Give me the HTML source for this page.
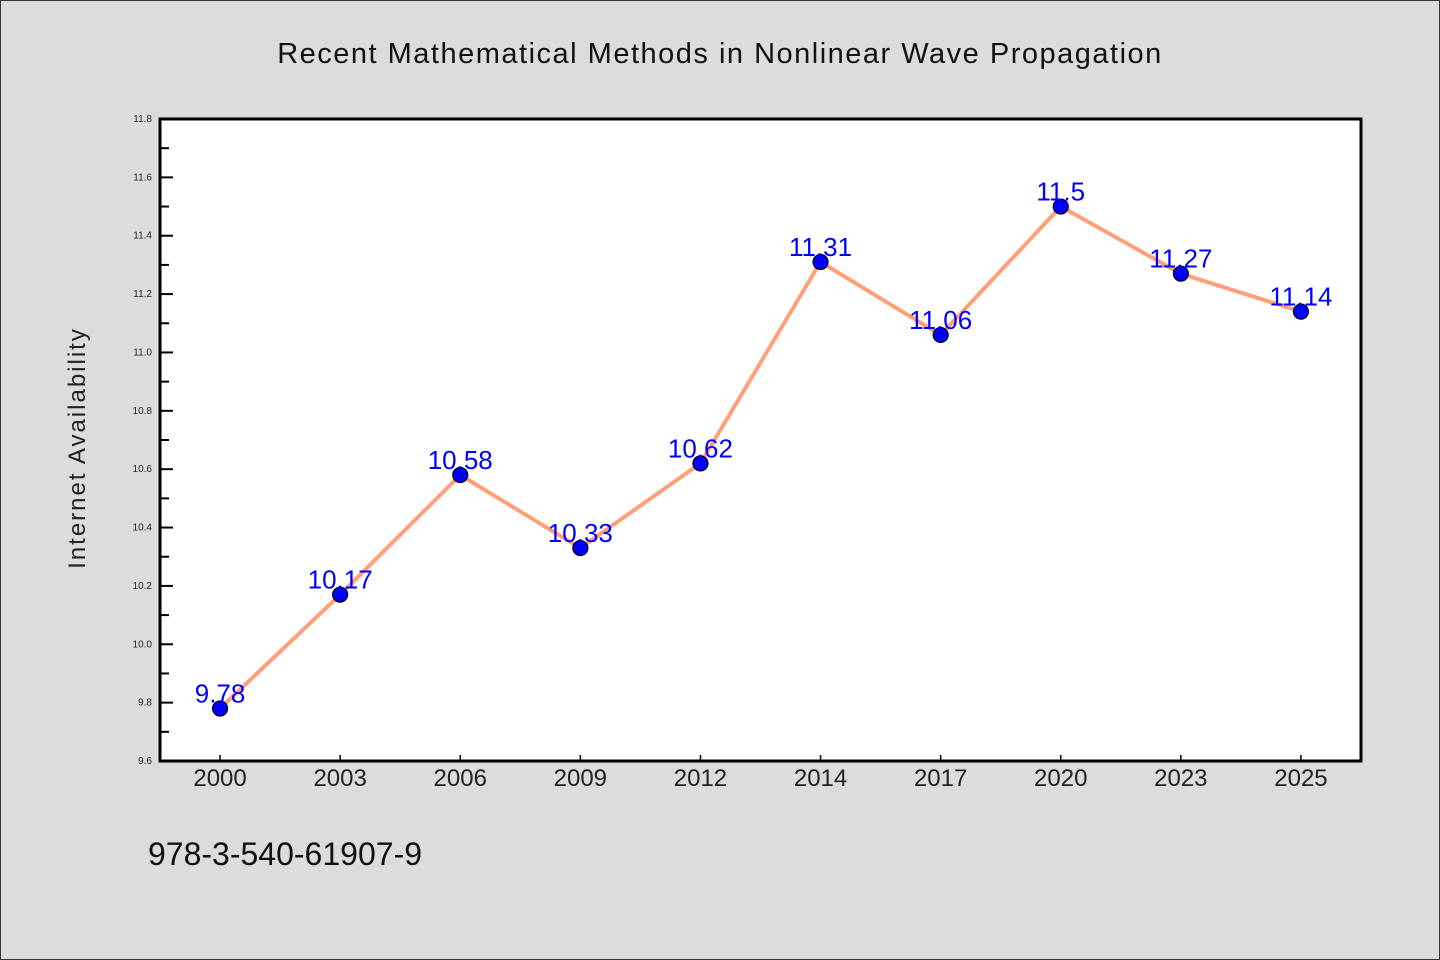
<!DOCTYPE html>
<html><head><meta charset="utf-8"><style>
html,body{margin:0;padding:0;background:#dcdcdc;}
svg{display:block;font-family:"WenQuanYi Zen Hei","Liberation Sans",sans-serif;}
</style></head><body>
<svg id="chart" width="1440" height="960" xmlns="http://www.w3.org/2000/svg">
<rect x="0.5" y="0.5" width="1439" height="959" fill="#dcdcdc" stroke="#333" stroke-width="1"/>
<text x="720" y="63" text-anchor="middle" font-size="29" fill="#111" letter-spacing="1.5">Recent Mathematical Methods in Nonlinear Wave Propagation</text>
<rect x="160" y="119" width="1201" height="642" fill="#fff"/>
<g id="ticks"></g>
<g id="series"></g>
<rect x="160" y="119" width="1201" height="642" fill="none" stroke="#000" stroke-width="3"/>
<text transform="translate(85,448) rotate(-90)" text-anchor="middle" font-size="24" fill="#222" letter-spacing="2">Internet Availability</text>
<text x="148" y="865" font-size="32" fill="#111">978-3-540-61907-9</text>
</svg>
<script>
const categories = ["2000","2003","2006","2009","2012","2014","2017","2020","2023","2025"];
const values = [9.78,10.17,10.58,10.33,10.62,11.31,11.06,11.5,11.27,11.14];
const yTicks = [9.6,9.8,10.0,10.2,10.4,10.6,10.8,11.0,11.2,11.4,11.6,11.8];
const NS="http://www.w3.org/2000/svg";
const L=160,R=1361,T=119,B=761,yMin=9.6,yMax=11.8;
const step=(R-L)/categories.length;
const x=i=>L+step*(i+0.5);
const y=v=>B-(v-yMin)/(yMax-yMin)*(B-T);
function mk(tag,attrs,parent){const e=document.createElementNS(NS,tag);for(const k in attrs)e.setAttribute(k,attrs[k]);parent.appendChild(e);return e;}
const tg=document.getElementById('ticks');
yTicks.forEach((t,i)=>{
  const ln=mk('line',{x1:L,x2:L+13,y1:y(t),y2:y(t),stroke:'#000','stroke-width':2},tg);
  
  
  const tx=mk('text',{x:L-8,y:y(t)+3,'text-anchor':'end','font-size':10,fill:'#222'},tg);
  tx.textContent=t.toFixed(1);
  
  
  if(i<yTicks.length-1){
    const m=mk('line',{x1:L,x2:L+9,y1:y(t+0.1),y2:y(t+0.1),stroke:'#000','stroke-width':2},tg);
    
    
  }
});
categories.forEach((c,i)=>{
  const ln=mk('line',{x1:x(i),x2:x(i),y1:B,y2:B-6,stroke:'#000','stroke-width':1.5},tg);
  
  
  const tx=mk('text',{x:x(i),y:B+25,'text-anchor':'middle','font-size':24,fill:'#222'},tg);
  tx.textContent=c;
  
  
});
const sg=document.getElementById('series');
const pl=mk('polyline',{points:values.map((v,i)=>x(i)+','+y(v)).join(' '),fill:'none',stroke:'#ffa07a','stroke-width':4,'stroke-linejoin':'round'},sg);


values.forEach((v,i)=>{
  const c=mk('circle',{cx:x(i),cy:y(v),r:7.5,fill:'#0000ff',stroke:'#000','stroke-width':1.2},sg);
  
  
});
values.forEach((v,i)=>{
  const t=mk('text',{x:x(i),y:y(v)-6,'text-anchor':'middle','font-size':26,fill:'#0000ff'},sg);
  t.textContent=String(v);
  
  
});
</script>
</body></html>
